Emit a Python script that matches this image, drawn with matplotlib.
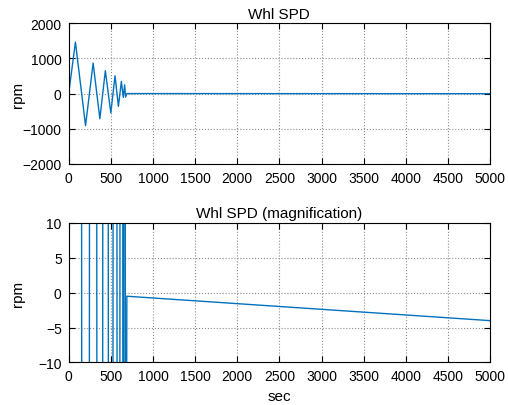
import matplotlib
matplotlib.use("Agg")
import matplotlib.pyplot as plt

plt.rcParams['font.family'] = ['Liberation Sans', 'DejaVu Sans']

# Wheel speed data (sec, rpm)
t_sec = [0, 80, 200, 290, 370, 435, 500, 550, 590, 625, 648, 664, 675, 690, 5000]
whl_spd = [0, 1460, -910, 865, -715, 650, -550, 505, -365, 345, -110, 250, -100, -0.5, -4.0]

x_ticks = [0, 500, 1000, 1500, 2000, 2500, 3000, 3500, 4000, 4500, 5000]
top_yticks = [-2000, -1000, 0, 1000, 2000]
bot_yticks = [-10, -5, 0, 5, 10]

line_color = '#0072BD'

fig = plt.figure(figsize=(5.08, 4.06), dpi=100)
ax1 = fig.add_axes([0.1352, 0.5936, 0.8295, 0.347])
ax2 = fig.add_axes([0.1352, 0.1047, 0.8295, 0.3436])

for ax in (ax1, ax2):
    ax.plot(t_sec, whl_spd, color=line_color, linewidth=1.0)
    ax.set_xlim(0, 5000)
    ax.set_xticks(x_ticks)
    ax.grid(True, linestyle=':', color='#8c8c8c', linewidth=0.8)
    ax.tick_params(direction='in', top=True, right=True, labelsize=10, length=4, width=0.8, pad=5)
    for sp in ax.spines.values():
        sp.set_linewidth(0.8)
    ax.set_ylabel('rpm', fontsize=11)
    ax.yaxis.set_label_coords(-0.104, 0.5)

ax1.set_ylim(-2000, 2000)
ax1.set_yticks(top_yticks)
ax1.set_title('Whl SPD', fontsize=11, pad=4)

ax2.set_ylim(-10, 10)
ax2.set_yticks(bot_yticks)
ax2.set_title('Whl SPD (magnification)', fontsize=11, pad=4)
ax2.set_xlabel('sec', fontsize=11)

fig.savefig('out.png', dpi=100)
